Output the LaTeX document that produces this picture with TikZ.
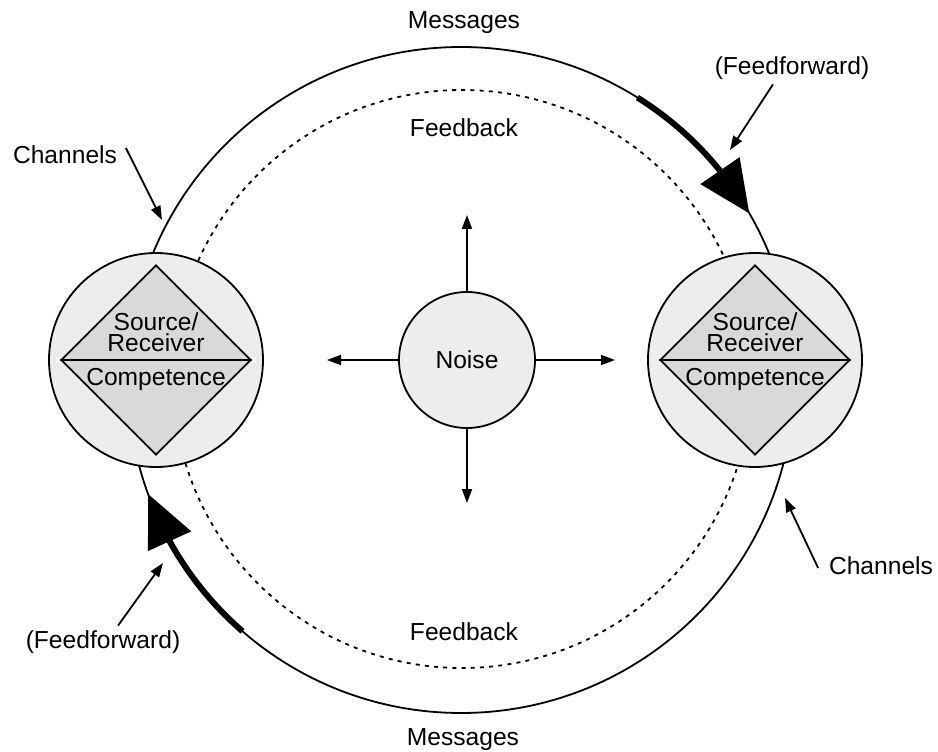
\documentclass[tikz,border=0pt]{standalone}
\usepackage{fontspec}
\setmainfont{Liberation Sans}
\usepackage{tikz}
\usetikzlibrary{shapes.geometric,arrows.meta,bending}
\definecolor{discgray}{rgb}{0.93,0.93,0.93}
\definecolor{diamgray}{rgb}{0.85,0.85,0.85}

\begin{document}
\begin{tikzpicture}[x=0.5pt,y=0.5pt,line width=0.9pt,
  lbl/.style={font=\fontsize{12.3}{10.5}\selectfont,inner sep=0pt},
  disc/.style={circle,draw,fill=discgray,minimum size=107pt,inner sep=0pt},
  diam/.style={diamond,draw,fill=diamgray,minimum width=95pt,minimum height=95pt,inner sep=0pt},
  ptr/.style={-{Triangle[length=7pt,width=5pt]}},
  ffwd/.style={line width=3pt,-{Triangle[length=26pt,width=23pt]}}]
\useasboundingbox (0,0) rectangle (938,751);
%\draw[step=50,lightgray,very thin] (0,0) grid (938,751);
% loops
\draw (461,371) circle[radius=166.5pt];
\draw[dash pattern=on 2pt off 2.6pt] (462,372) circle[radius=144.5pt];
\draw[ffwd] (461,371) ++(58:333) arc[start angle=58,end angle=30,radius=166.5pt];
\draw[ffwd] (461,371) ++(229:333) arc[start angle=229,end angle=200,radius=166.5pt];
% source/receiver
\node[disc] (srcl) at (156,391) {};
\node[diam] (diaml) at (156,391) {};
\draw (diaml.west) -- (diaml.east);
\node[lbl,align=center,anchor=south] at (156,398) {Source/\\Receiver};
\node[lbl,anchor=north] at (156,384) {Competence};
\node[disc] (srcr) at (755,391) {};
\node[diam] (diamr) at (755,391) {};
\draw (diamr.west) -- (diamr.east);
\node[lbl,align=center,anchor=south] at (755,398) {Source/\\Receiver};
\node[lbl,anchor=north] at (755,384) {Competence};
% noise
\node[disc,minimum size=68pt,font=\fontsize{12.3}{14}\selectfont] (noise) at (467,391) {Noise};
\coordinate (nzup) at (467,536);
\coordinate (nzdown) at (467,248);
\coordinate (nzleft) at (327,391);
\coordinate (nzright) at (615,391);
\draw[ptr] (noise) -- (nzup);
\draw[ptr] (noise) -- (nzdown);
\draw[ptr] (noise) -- (nzleft);
\draw[ptr] (noise) -- (nzright);
% labels
\node[lbl] (msgtop) at (464,728.5) {Messages};
\node[lbl] (msgbot) at (463,11.5) {Messages};
\node[lbl] (fbtop) at (464,623.5) {Feedback};
\node[lbl] (fbbot) at (464,119.5) {Feedback};
\node[lbl] (chl) at (65,596) {Channels};
\coordinate (chlend) at (162,531);
\draw[ptr] ([shift={(4pt,3.5pt)}]chl.east) -- (chlend);
\node[lbl] (chr) at (881,185) {Channels};
\coordinate (chrend) at (785,253);
\draw[ptr] ([shift={(-5pt,-1pt)}]chr.west) -- (chrend);
\node[lbl] (fftop) at (792,683) {(Feedforward)};
\coordinate (fftopend) at (730,601);
\draw[ptr] ([shift={(-9.5pt,-2pt)}]fftop.south) -- (fftopend);
\node[lbl] (ffbot) at (103,109) {(Feedforward)};
\coordinate (ffbotend) at (163,188);
\draw[ptr] ([shift={(7.5pt,2pt)}]ffbot.north) -- (ffbotend);
\end{tikzpicture}
\end{document}
